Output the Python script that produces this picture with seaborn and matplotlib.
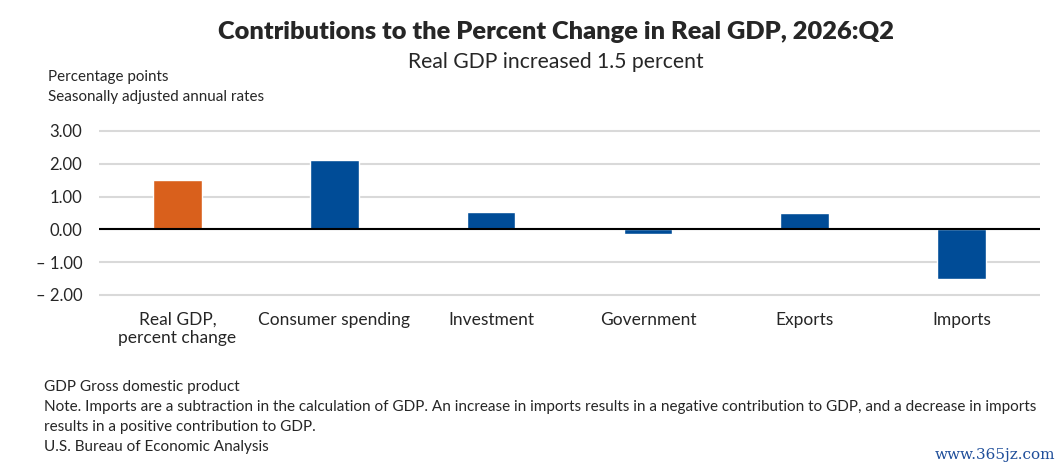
import matplotlib
matplotlib.use("Agg")
import matplotlib.pyplot as plt
import seaborn as sns

# Datos
categorias = ["Real GDP,\npercent change", "Consumer spending", "Investment",
              "Government", "Exports", "Imports"]
valores = [1.50, 2.11, 0.53, -0.13, 0.50, -1.50]
colores = ["#D9601C", "#004C97", "#004C97", "#004C97", "#004C97", "#004C97"]
ticks_y = [-2, -1, 0, 1, 2, 3]
etiquetas_y = ["\u2013 2.00", "\u2013 1.00", "0.00", "1.00", "2.00", "3.00"]

sns.set_style("white")
plt.rcParams["font.family"] = ["Lato", "DejaVu Sans"]

W, H = 1062, 471
fig = plt.figure(figsize=(W / 100, H / 100), dpi=100)

# posicion de los ejes en pixeles
y0, y1 = -2.05, 3.05
unidad = 32.8
top_px = 229.3 - y1 * unidad
bot_px = 229.3 - y0 * unidad
ax = fig.add_axes([99 / W, 1 - bot_px / H, (1040 - 99) / W, (bot_px - top_px) / H])

sns.barplot(x=categorias, y=valores, hue=categorias, palette=colores,
            legend=False, width=0.31, saturation=1, ax=ax, zorder=3)

ax.set_ylim(y0, y1)
ax.set_xlim(-0.5, 5.5)
ax.set_yticks(ticks_y)
ax.set_yticklabels(etiquetas_y)
ax.yaxis.grid(True, color="#D9D9D9", linewidth=1.5, zorder=0)
ax.axhline(0, color="black", linewidth=1.5, zorder=4)
for s in ax.spines.values():
    s.set_visible(False)
ax.tick_params(axis="y", length=0, pad=12, labelsize=12)
ax.tick_params(axis="x", length=0, pad=11, labelsize=12.5)
ax.set_xlabel("")
ax.set_ylabel("")

def texto(x, y, s, **kw):
    fig.text(x / W, 1 - y / H, s, va="center", **kw)

texto(556, 32, "Contributions to the Percent Change in Real GDP, 2026:Q2",
      ha="center", fontsize=18.3, fontweight="heavy")
texto(556, 62, "Real GDP increased 1.5 percent", ha="center", fontsize=15.2)
texto(48, 77, "Percentage points", fontsize=10.9)
texto(48, 97, "Seasonally adjusted annual rates", fontsize=10.9)

notas = [
    "GDP Gross domestic product",
    "Note. Imports are a subtraction in the calculation of GDP. An increase in imports results in a negative contribution to GDP, and a decrease in imports",
    "results in a positive contribution to GDP.",
    "U.S. Bureau of Economic Analysis",
]
for i, n in enumerate(notas):
    texto(44, 387 + 20 * i, n, fontsize=11)

texto(1055, 455, "www.365jz.com", ha="right", fontsize=11,
      color="#1F4E9A", family=["DejaVu Serif"])

fig.savefig("out.png", dpi=100)
